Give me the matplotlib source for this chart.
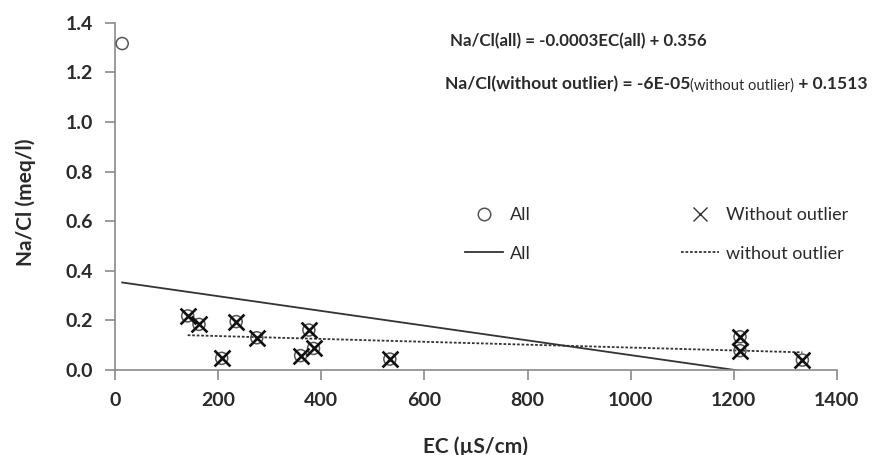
import matplotlib
matplotlib.use("Agg")
import matplotlib.pyplot as plt
from matplotlib.lines import Line2D

plt.rcParams["font.family"] = ["Lato", "DejaVu Sans"]

# all samples (the first one is the outlier)
ec_all = [14, 141, 163, 207, 235, 275, 360, 376, 385, 533, 1212, 1212, 1333]
nacl_all = [1.316, 0.218, 0.184, 0.047, 0.195, 0.130, 0.058, 0.161, 0.087, 0.044, 0.134, 0.078, 0.040]

# samples without the outlier
ec_wo = ec_all[1:]
nacl_wo = nacl_all[1:]

# trendlines as drawn (the printed equations are rounded)
slope_all, icpt_all = -0.000297, 0.357
slope_wo, icpt_wo = -5.8e-05, 0.1485

x_ticks = [0, 200, 400, 600, 800, 1000, 1200, 1400]
y_ticks = [0.0, 0.2, 0.4, 0.6, 0.8, 1.0, 1.2, 1.4]

text_c = "#2a2a2a"
axis_c = "#8a8a8a"

fig = plt.figure(figsize=(8.81, 4.55), dpi=100)
ax = fig.add_axes([0.1305, 0.1868, 0.8195, 0.7633])

ax.scatter(ec_all, nacl_all, s=75, facecolors="none", edgecolors="#555555",
           linewidths=1.1, zorder=3)
ax.scatter(ec_wo, nacl_wo, s=130, marker="x", color="#111111", linewidths=1.9, zorder=4)

xa = [min(ec_all), max(ec_all)]
ax.plot(xa, [icpt_all + slope_all * x for x in xa], color="#333333", lw=1.3, zorder=2)
xw = [min(ec_wo), max(ec_wo)]
ax.plot(xw, [icpt_wo + slope_wo * x for x in xw], color="#333333", lw=1.3,
        ls=(0, (1.5, 1.0)), zorder=2)

ax.set_xlim(0, 1400)
ax.set_ylim(0, 1.4)
ax.set_xticks(x_ticks)
ax.set_yticks(y_ticks)
ax.set_yticklabels([f"{v:.1f}" for v in y_ticks])
for s in ["top", "right"]:
    ax.spines[s].set_visible(False)
for s in ["left", "bottom"]:
    ax.spines[s].set_color(axis_c)
    ax.spines[s].set_linewidth(1.2)
ax.tick_params(axis="both", colors=axis_c, length=7, width=1.2, direction="out",
               labelcolor=text_c, labelsize=14, pad=9)
for lab in ax.get_xticklabels() + ax.get_yticklabels():
    lab.set_fontweight("bold")

ax.set_xlabel("EC (µS/cm)", fontsize=15, fontweight="bold", color=text_c)
ax.xaxis.set_label_coords(0.5, -0.19)
ax.set_ylabel("Na/Cl (meq/l)", fontsize=15, fontweight="bold", color=text_c)
ax.yaxis.set_label_coords(-0.11, 0.484)

handles = [
    Line2D([], [], ls="none", marker="o", markersize=9, markerfacecolor="none",
           markeredgecolor="#555555", markeredgewidth=1.1),
    Line2D([], [], color="#333333", lw=1.3),
    Line2D([], [], ls="none", marker="x", markersize=10, color="#333333",
           markeredgewidth=1.0),
    Line2D([], [], color="#333333", lw=1.3, ls=(0, (1.5, 1.0))),
]
labels = ["All", "All", "Without outlier", "without outlier"]
fig.legend(handles, labels, ncol=2, frameon=False, loc="upper left",
           bbox_to_anchor=(465 / 881, 1 - 207 / 455), bbox_transform=fig.transFigure,
           fontsize=13, handlelength=2.1, handletextpad=0.4, columnspacing=8.3,
           labelspacing=1.25, borderpad=0, borderaxespad=0, labelcolor=text_c)

t1 = fig.text(450 / 881, 1 - 41 / 455, "Na/Cl(all) = -0.0003EC(all) + 0.356",
              fontsize=12.2, fontweight="bold", color=text_c, va="center")
t2 = fig.text(445 / 881, 1 - 84 / 455, "Na/Cl(without outlier) = -6E-05",
              fontsize=12.6, fontweight="bold", color=text_c, va="center")
t3 = ax.annotate("(without outlier)", xy=(1, 0.5), xycoords=t2, va="center",
                 fontsize=10.5, color=text_c, xytext=(0, -1), textcoords="offset points")
ax.annotate(" + 0.1513", xy=(1, 0.5), xycoords=t3, va="center", fontsize=12.6,
            fontweight="bold", color=text_c, xytext=(0, 1), textcoords="offset points")

fig.savefig("out.png", dpi=100)
